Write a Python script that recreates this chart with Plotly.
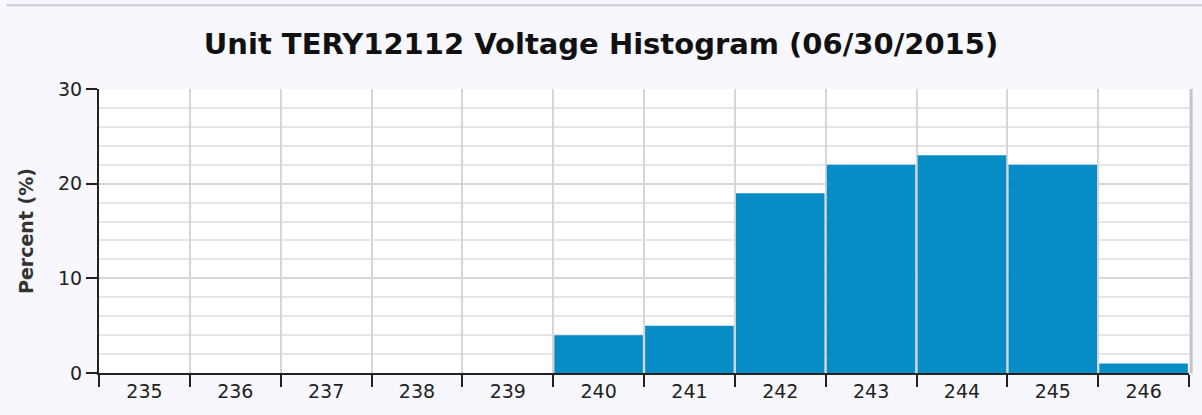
import plotly.graph_objects as go

# voltage bins and percent of readings
voltages = ['235', '236', '237', '238', '239', '240', '241', '242', '243', '244', '245', '246']
percents = [0, 0, 0, 0, 0, 4, 5, 19, 22, 23, 22, 1]

title = 'Unit TERY12112 Voltage Histogram (06/30/2015)'

fig = go.Figure()
fig.add_trace(go.Bar(x=voltages, y=percents, marker_color='#088cc6',
                     marker_line_width=0, width=0.975))

fig.update_layout(
    width=1202, height=415,
    margin=dict(l=99, r=13, t=89, b=42),
    paper_bgcolor='#f7f7fd',
    plot_bgcolor='#ffffff',
    showlegend=False,
    font=dict(family='DejaVu Sans', color='#222222'),
    title=dict(text='<b>' + title + '</b>', x=0.5, xanchor='center',
               y=0.895, yanchor='middle',
               font=dict(family='DejaVu Sans', size=29, color='#111111')),
)

fig.update_xaxes(
    type='category', tickson='boundaries', ticks='outside', ticklen=12,
    tickwidth=2, tickcolor='#222222', showgrid=True, gridcolor='#d6d6d6',
    gridwidth=2, showline=True, linecolor='#222222', linewidth=2,
    tickfont=dict(size=19, color='#222222'), range=[-0.5, 11.5],
)
fig.update_yaxes(
    range=[0, 30], tickvals=[0, 10, 20, 30], ticks='outside', ticklen=11,
    tickwidth=2, tickcolor='#222222', showgrid=True, gridcolor='#d6d6d6',
    gridwidth=2, showline=True, linecolor='#222222', linewidth=2,
    zeroline=False, tickfont=dict(size=19, color='#222222'),
    minor=dict(dtick=2, showgrid=True, gridcolor='#e6e6e6', gridwidth=2),
    title=dict(text='<b>Percent (%)</b>', font=dict(size=19, color='#333333'),
               standoff=19),
)

# top border strip and plot-area right shadow
fig.add_shape(type='line', xref='paper', yref='paper', x0=-0.085, x1=1.02,
              y0=1.295, y1=1.295, line=dict(color='#c8cde0', width=2))
fig.add_shape(type='line', xref='paper', yref='paper', x0=1.002, x1=1.002,
              y0=0, y1=1, line=dict(color='#c4c4c8', width=3))

fig.write_html('out.html', config={'displayModeBar': False},
               post_script="document.body.style.margin='0';")
